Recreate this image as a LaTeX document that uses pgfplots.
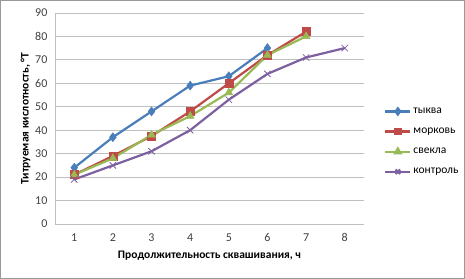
\documentclass[border=0pt]{standalone}
\usepackage{fontspec}
\setmainfont{Carlito}
\usepackage{pgfplots}
\pgfplotsset{compat=1.18}
\definecolor{c1}{HTML}{4A7EBB}
\definecolor{c2}{HTML}{BE4B48}
\definecolor{c3}{HTML}{98B954}
\definecolor{c4}{HTML}{7D60A0}
\definecolor{gridc}{HTML}{BFBFBF}
\definecolor{tickc}{HTML}{404040}
\begin{document}
\begin{tikzpicture}
\draw[gray!80, line width=0.8pt] (0.5pt,0.5pt) rectangle (464.5pt,278.5pt);
\begin{axis}[
  at={(55pt,55pt)}, anchor=south west,
  scale only axis, width=309pt, height=211pt,
  xmin=0.5, xmax=8.5, ymin=0, ymax=90,
  xtick={1,...,8}, ytick={0,10,...,90},
  axis x line*=bottom, axis y line*=left,
  axis line style={gridc, line width=0.8pt, -},
  major tick length=0pt,
  ymajorgrids, grid style={gridc, line width=0.8pt},
  tick label style={font=\fontsize{12}{13}\selectfont, text=tickc},
  /pgf/number format/assume math mode=true,
  xticklabel style={yshift=-6pt},
  yticklabel style={xshift=-4pt},
  xlabel={\textbf{Продолжительность сквашивания, ч}},
  ylabel={\textbf{Титруемая кислотность, °Т}},
  label style={font=\fontsize{11.5}{13}\selectfont},
  xlabel style={at={(axis description cs:0.5,0)}, anchor=north, yshift=-23pt},
  ylabel style={at={(axis description cs:0,0.5)}, anchor=south, yshift=21pt},
  legend style={at={(1.055,0.57)}, anchor=north west, draw=none, fill=none,
    font=\fontsize{11.5}{13}\selectfont, row sep=9pt, legend cell align=left,
    /tikz/every even column/.append style={column sep=0pt}},
  legend image code/.code={\draw[#1] (0pt,0pt) -- (25pt,0pt); \draw[#1, only marks, mark options={scale=0.7}] plot coordinates {(12.5pt,0pt)};},
  every axis plot/.append style={line width=2.2pt},
]
\addplot[c1, mark=diamond*, mark size=4.5pt, mark options={solid, line width=0.5pt}] coordinates {(1,24)(2,37)(3,48)(4,59)(5,63)(6,75)};
\addplot[c2, mark=square*, mark size=4pt, mark options={solid, line width=0.5pt}] coordinates {(1,21)(2,29)(3,37.5)(4,48)(5,60)(6,72)(7,82)};
\addplot[c3, mark=triangle*, mark size=4.5pt, mark options={solid, line width=0.5pt}] coordinates {(1,21)(2,28)(3,38)(4,46)(5,56)(6,72)(7,80)};
\addplot[c4, mark=x, mark size=4.5pt, mark options={solid, line width=0.8pt}] coordinates {(1,19)(2,25)(3,31)(4,40)(5,53)(6,64)(7,71)(8,75)};
\legend{тыква, морковь, свекла, контроль}
\end{axis}
\end{tikzpicture}
\end{document}
